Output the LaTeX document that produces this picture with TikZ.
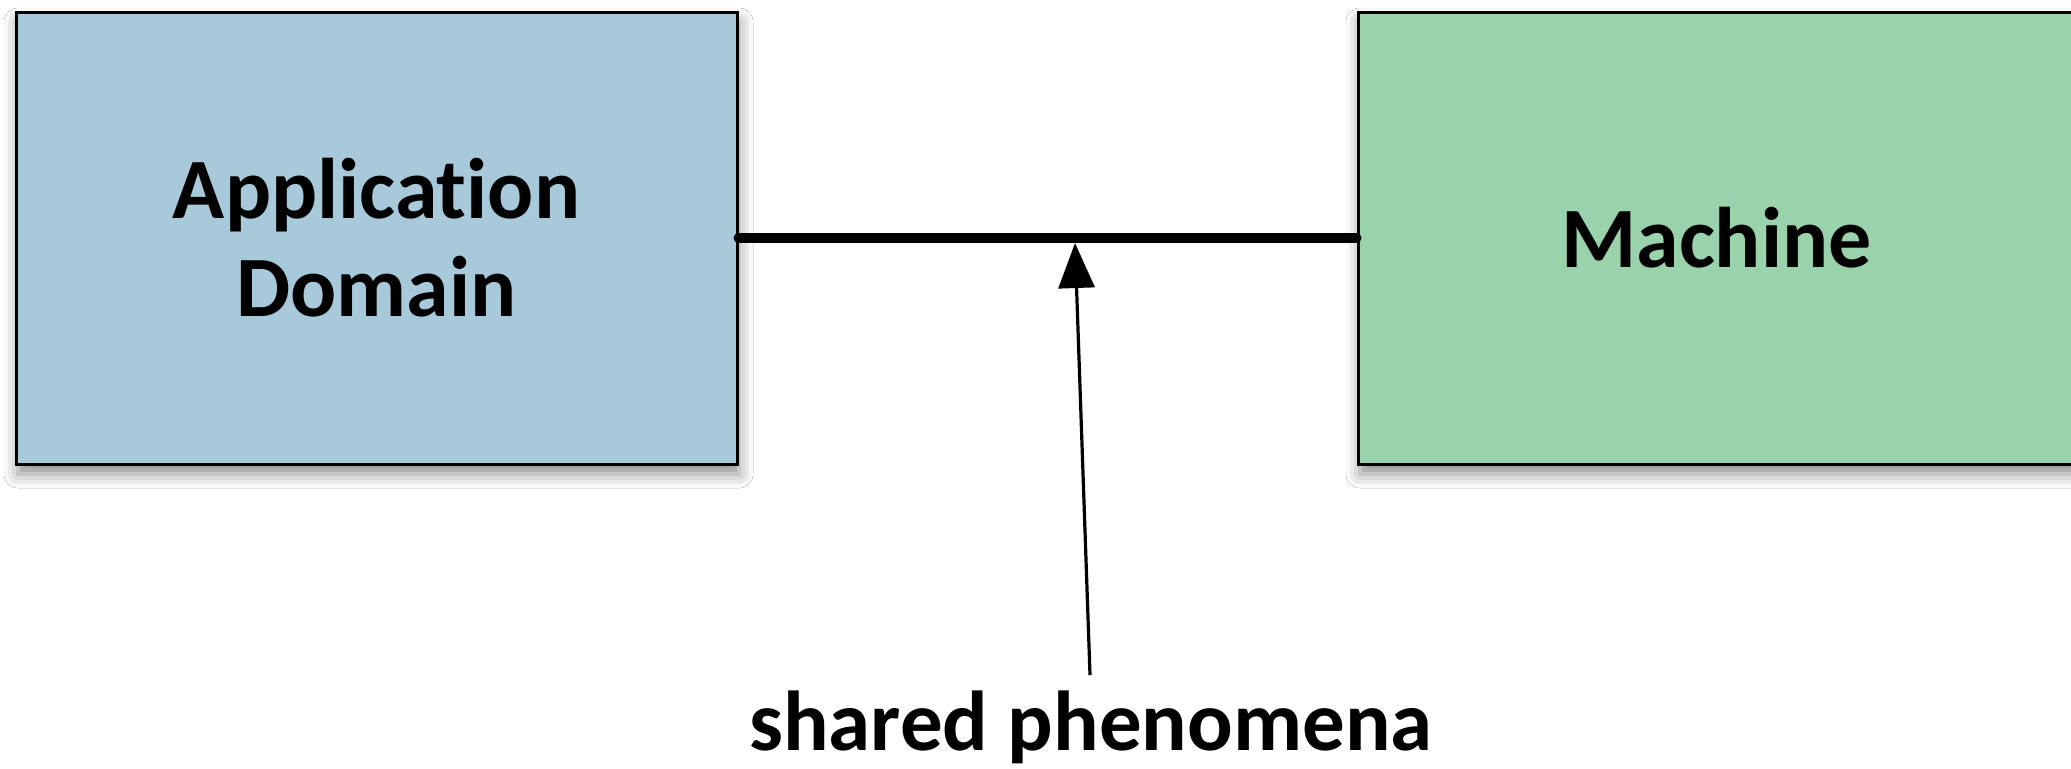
\documentclass[tikz,border=0pt]{standalone}
\usepackage{fontspec}
\setmainfont{Carlito}[Ligatures={NoCommon,NoRequired}]
\usetikzlibrary{arrows.meta,shadows.blur}
\definecolor{domblue}{HTML}{A7C9DA}
\definecolor{machgreen}{HTML}{9AD2AB}
\tikzset{
  box/.style={draw=black, line width=1.5pt, rectangle, minimum height=226pt,
    inner sep=0pt, align=center, font=\bfseries\fontsize{43}{49}\selectfont,
    blur shadow={shadow xshift=1pt, shadow yshift=-5pt, shadow blur radius=7pt, shadow opacity=45}},
  link/.style={line width=5pt, line cap=round},
  pointer/.style={line width=1.6pt, -{Triangle[length=22.5pt,width=18pt]}},
  caption/.style={font=\bfseries\fontsize{42.5}{49}\selectfont, inner sep=0pt}
}
\begin{document}
\begin{tikzpicture}[x=0.5pt,y=-0.5pt]
\useasboundingbox (0,0) rectangle (2071,768);
\fill[white] (0,0) rectangle (2071,768);
\node[box, fill=domblue, minimum width=360.5pt] (dom) at (376.5,238) {Application\\Domain};
\node[box, fill=machgreen, minimum width=358.5pt] (mach) at (1716.5,238) {Machine};
\draw[link] (dom.east) -- (mach.west);
\node[caption, anchor=base] (lbl) at (1091,750) {shared phenomena};
\coordinate (tip) at (1075,243);
\coordinate (tail) at (1090,675);
\draw[pointer] (tail) -- (tip);
\end{tikzpicture}
\end{document}
